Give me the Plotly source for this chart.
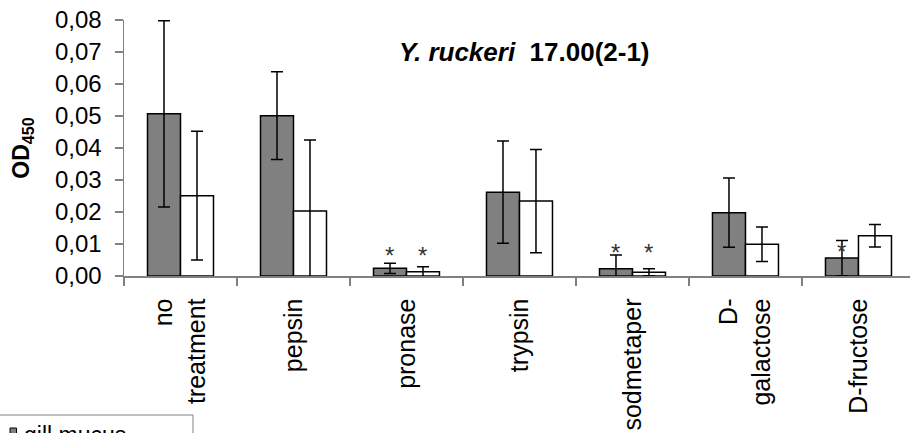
import plotly.graph_objects as go

categories = ["no<br>treatment", "pepsin", "pronase", "trypsin", "sodmetaper", "D-<br>galactose", "D-fructose"]
gill_mean = [0.0507, 0.0501, 0.0024, 0.0262, 0.0023, 0.0198, 0.0056]
gill_err = [0.0291, 0.0137, 0.0016, 0.0160, 0.0043, 0.0108, 0.0055]
skin_mean = [0.0251, 0.0203, 0.0013, 0.0234, 0.0012, 0.0099, 0.0126]
skin_err = [0.0201, 0.0222, 0.0016, 0.0161, 0.0011, 0.0054, 0.0035]
series_names = ["gill mucus", "skin mucus"]
series_colors = ["#808080", "white"]

# significance markers: category index, series index (0 gill, 1 skin), y position
star_cat = [2, 2, 4, 4, 6]
star_series = [0, 1, 0, 1, 0]
star_y = [0.0081, 0.0081, 0.0088, 0.0088, 0.0092]

y_ticks = [0.00, 0.01, 0.02, 0.03, 0.04, 0.05, 0.06, 0.07, 0.08]

FONT = "Arial, Liberation Sans, sans-serif"

# plot-area geometry (pixels) used to place the legend box outside the plot
W, H = 910, 433
ML, MT, MB = 124, 20, 157
PW, PH = W - ML, H - MT - MB


def px_x(p):
    return (p - ML) / PW


def px_y(p):
    return (H - MB - p) / PH


fig = go.Figure()
for name, mean, err, col in [(series_names[0], gill_mean, gill_err, series_colors[0]),
                             (series_names[1], skin_mean, skin_err, series_colors[1])]:
    fig.add_trace(go.Bar(
        name=name, x=categories, y=mean,
        marker=dict(color=col, line=dict(color="black", width=1.5)),
        error_y=dict(type="data", array=err, color="black", thickness=1.5, width=6),
        showlegend=False,
    ))

annotations = []
for c, s, yv in zip(star_cat, star_series, star_y):
    annotations.append(dict(
        x=categories[c], y=yv, xref="x", yref="y", text="*", showarrow=False,
        xshift=-16.5 if s == 0 else 16.5, yshift=-5,
        font=dict(size=24, color="#333333", family=FONT),
        xanchor="center", yanchor="middle",
    ))
annotations.append(dict(
    x=0.347, y=0.875, xref="paper", yref="paper", xanchor="left", yanchor="middle",
    text="<b><i>Y. ruckeri</i>  17.00(2-1)</b>", showarrow=False,
    font=dict(size=26, color="black", family=FONT),
))

# legend box (cut off by the bottom edge, as in the original)
shapes = [
    dict(type="rect", xref="paper", yref="paper",
         x0=px_x(-20), x1=px_x(193), y0=px_y(500), y1=px_y(415),
         line=dict(color="#808080", width=1), fillcolor="white", layer="above"),
]
for i, (name, col) in enumerate(zip(series_names, series_colors)):
    top = 428 + i * 30
    shapes.append(dict(type="rect", xref="paper", yref="paper",
                       x0=px_x(10), x1=px_x(16.5), y0=px_y(top + 6.5), y1=px_y(top),
                       line=dict(color="black", width=1), fillcolor=col, layer="above"))
    annotations.append(dict(
        x=px_x(22), y=px_y(top - 8), xref="paper", yref="paper",
        xanchor="left", yanchor="top", text=name, showarrow=False,
        font=dict(size=23, color="black", family=FONT),
    ))

fig.update_layout(
    width=W, height=H,
    margin=dict(l=ML, r=0, t=MT, b=MB, autoexpand=False),
    paper_bgcolor="white", plot_bgcolor="white",
    barmode="group", bargap=0.416, bargroupgap=0,
    separators=",.",
    font=dict(family=FONT, size=24, color="black"),
    showlegend=False,
    annotations=annotations,
    shapes=shapes,
)
fig.update_xaxes(
    type="category", range=[-0.5, 6.456],
    showline=True, linecolor="#808080", linewidth=1.5,
    ticks="outside", ticklen=8, tickcolor="#808080", tickwidth=1.5,
    tickson="boundaries", tickangle=-90, ticklabelstandoff=11,
    tickfont=dict(size=25, family=FONT, color="black"),
    showgrid=False, zeroline=False, fixedrange=True,
)
fig.update_yaxes(
    range=[0, 0.08], tickvals=y_ticks, tickformat=".2f",
    showline=True, linecolor="#808080", linewidth=1.5,
    ticks="outside", ticklen=8, tickcolor="#808080", tickwidth=1.5,
    ticklabelstandoff=8,
    tickfont=dict(size=24, family=FONT, color="black"),
    showgrid=False, zeroline=False, fixedrange=True,
    title=dict(text="<b>OD<sub>450</sub></b>", font=dict(size=23, family=FONT, color="black"), standoff=19),
)

fig.write_html("out.html", config={"displayModeBar": False, "staticPlot": True},
               post_script="document.body.style.margin='0';document.body.style.overflow='hidden';")
